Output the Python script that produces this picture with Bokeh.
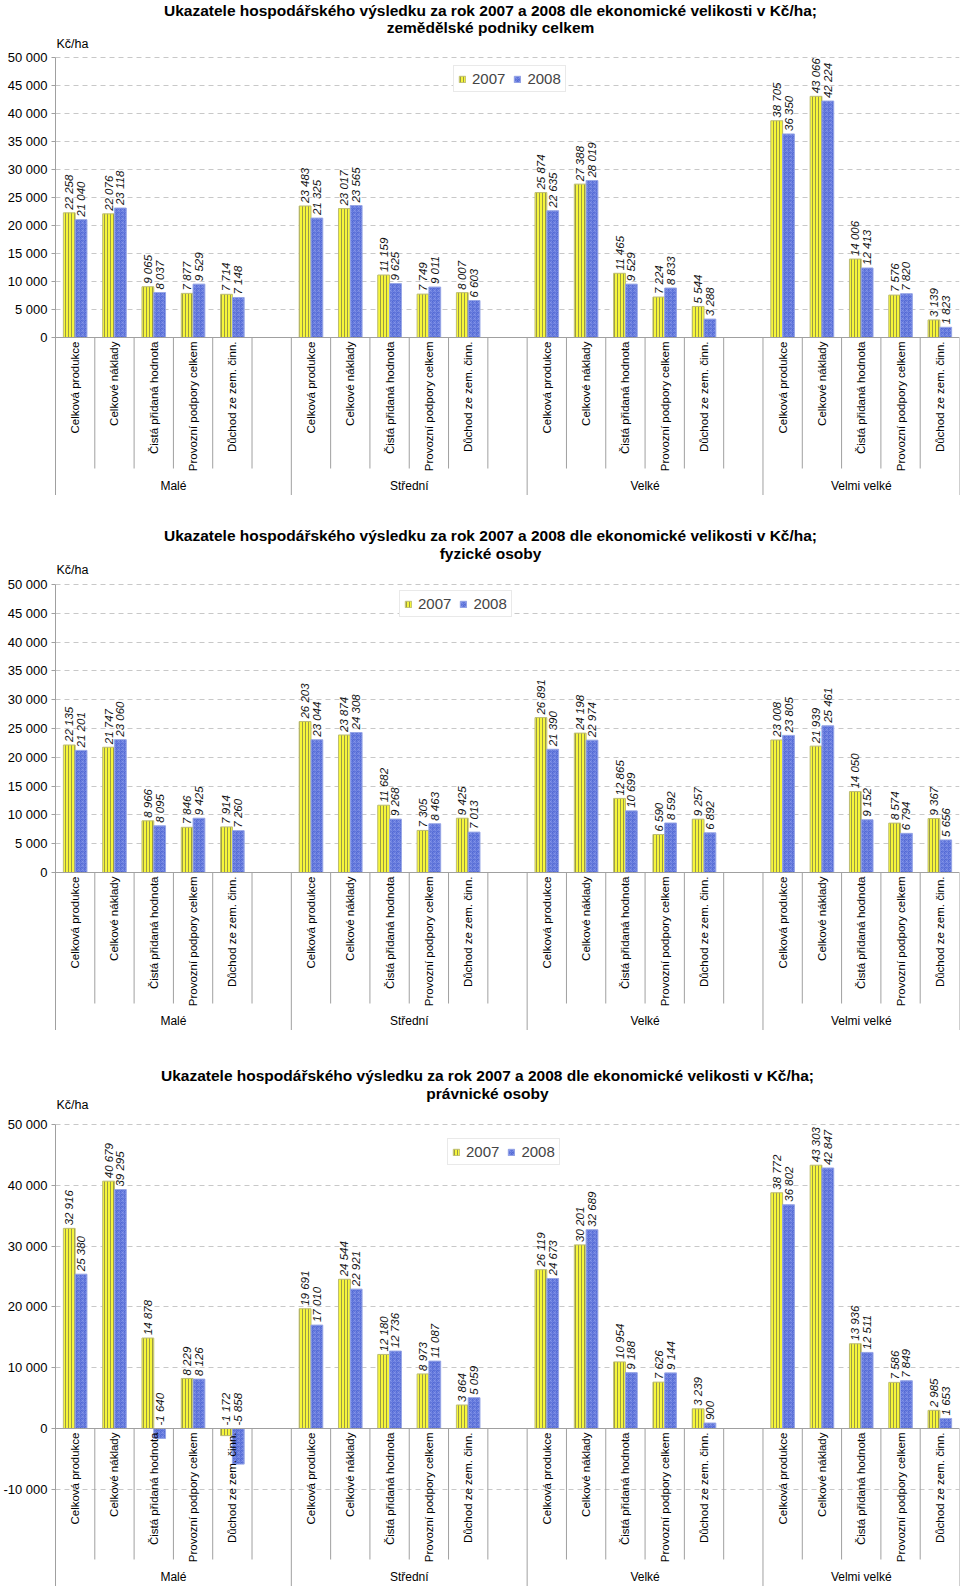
import math
from bokeh.plotting import figure
from bokeh.models import (FactorRange, Range1d, ColumnDataSource, FixedTicker,
                          CustomJSTickFormatter, Span, Legend, LegendItem)
from bokeh.transform import dodge
from bokeh.layouts import column
from bokeh.embed import file_html
from bokeh.resources import INLINE
from bokeh.core.properties import value

# ---------------- data ----------------
GROUPS = ["Malé", "Střední", "Velké", "Velmi velké"]
CATEGORIES = ["Celková produkce", "Celkové náklady", "Čistá přidaná hodnota",
              "Provozní podpory celkem", "Důchod ze zem. činn."]
YEARS = ["2007", "2008"]

TITLE_LINE1 = "Ukazatele hospodářského výsledku za rok 2007 a 2008 dle ekonomické velikosti v Kč/ha;"
SUBTITLES = ["zemědělské podniky celkem", "fyzické osoby", "právnické osoby"]
UNIT = "Kč/ha"

# zemědělské podniky celkem (groups in GROUPS order, categories in CATEGORIES order)
ALL_2007 = [22258, 22076, 9065, 7877, 7714,
            23483, 23017, 11159, 7749, 8007,
            25874, 27388, 11465, 7224, 5544,
            38705, 43066, 14006, 7576, 3139]
ALL_2008 = [21040, 23118, 8037, 9529, 7148,
            21325, 23565, 9625, 9011, 6603,
            22635, 28019, 9529, 8833, 3288,
            36350, 42224, 12413, 7820, 1823]
# fyzické osoby
FO_2007 = [22135, 21747, 8966, 7846, 7914,
           26203, 23874, 11682, 7305, 9425,
           26891, 24198, 12865, 6590, 9257,
           23008, 21939, 14050, 8574, 9367]
FO_2008 = [21201, 23060, 8095, 9425, 7260,
           23044, 24308, 9268, 8463, 7013,
           21390, 22974, 10699, 8592, 6892,
           23805, 25461, 9152, 6794, 5656]
# právnické osoby
PO_2007 = [32916, 40679, 14878, 8229, -1172,
           19691, 24544, 12180, 8973, 3864,
           26119, 30201, 10954, 7626, 3239,
           38772, 43303, 13936, 7586, 2985]
PO_2008 = [25380, 39295, -1640, 8126, -5858,
           17010, 22921, 12736, 11087, 5059,
           24673, 32689, 9188, 9144, 900,
           36802, 42847, 12511, 7849, 1653]

TICKS_A = [0, 5000, 10000, 15000, 20000, 25000, 30000, 35000, 40000, 45000, 50000]
TICKS_C = [-10000, 0, 10000, 20000, 30000, 40000, 50000]
Y_MAX = 50000

# ---------------- layout / style ----------------
WIDTH = 960
LEFT = 50
RIGHT = 1
PX_MAX = [280, 288, 304]      # pixels from 0 to Y_MAX
ABOVE = [57, 89, 94]          # pixels above Y_MAX (title area)
BELOW = [158, 158, 158]       # category-axis area below zero
INNER_SEP = 131               # length of category separators, px
GROUP_LABEL_DY = 148
TITLE_X = [435, 435, 432]     # title centre, px from frame left
TITLE_DY = [47, 49, 49]       # px above Y_MAX
SUB_DY = [30, 31, 31]
UNIT_DY = [14, 15, 20]
LEGEND_X = [398, 344, 392]
LEGEND_BOTTOM = [92, 122, 135]  # px from figure top
FONT = "Liberation Sans"

C07_FILL, C07_LINE, C07_HATCH = "#F6F63A", "#BDBD72", "#9A9A46"
C08_FILL, C08_LINE, C08_HATCH = "#5168D4", "#97A6E6", "#8C9CEA"
AXIS_COL = "#A0A0A0"
GRID_COL = "#C8C8C8"


def fmt(v):
    return f"{v:,}".replace(",", " ")


def make_chart(idx, v07, v08, ticks):
    per_px = Y_MAX / PX_MAX[idx]
    frame_h = ABOVE[idx] + PX_MAX[idx] + BELOW[idx]
    y_start = -BELOW[idx] * per_px
    y_end = Y_MAX + ABOVE[idx] * per_px

    factors = []
    group_factors = []
    for gi, g in enumerate(GROUPS):
        fl = [(g, c) for c in CATEGORIES]
        if gi < len(GROUPS) - 1:
            fl.append((g, " "))
        group_factors.append(fl)
        factors.extend(fl)

    xr = FactorRange(*factors, factor_padding=0, group_padding=0, range_padding=0)
    p = figure(width=WIDTH, height=frame_h, x_range=xr,
               y_range=Range1d(y_start, y_end), output_backend="svg",
               toolbar_location=None, title_location=None, x_axis_location=None,
               min_border_left=LEFT, min_border_right=RIGHT,
               min_border_top=0, min_border_bottom=0)
    p.outline_line_color = None
    p.background_fill_color = "white"
    p.border_fill_color = "white"
    p.xgrid.grid_line_color = None

    # y axis
    ax = p.yaxis[0]
    ax.ticker = FixedTicker(ticks=ticks)
    ax.bounds = (y_start, Y_MAX)
    ax.formatter = CustomJSTickFormatter(
        code=r'return tick.toFixed(0).replace(/\B(?=(\d{3})+(?!\d))/g, " ");')
    ax.major_label_text_font = FONT
    ax.major_label_text_font_size = "13px"
    ax.major_label_text_color = "#000000"
    ax.major_label_standoff = 4
    ax.major_tick_out = 4
    ax.major_tick_in = 0
    ax.minor_tick_line_color = None
    ax.axis_line_color = AXIS_COL
    ax.major_tick_line_color = AXIS_COL
    p.ygrid.grid_line_color = GRID_COL
    p.ygrid.grid_line_dash = "5 4"

    # separators of the category axis
    inner, outer = [], []
    for fl in group_factors:
        inner.extend(fl[:-1])
        outer.append(fl[-1])
    sep_src = ColumnDataSource(dict(
        x=inner + outer,
        y1=[-INNER_SEP * per_px] * len(inner) + [y_start] * len(outer)))
    p.segment(x0=dodge("x", 0.5, range=xr), y0=0, x1=dodge("x", 0.5, range=xr),
              y1="y1", source=sep_src, line_color=AXIS_COL, line_width=1)

    # bars
    xs = [(g, c) for g in GROUPS for c in CATEGORIES]
    src = ColumnDataSource(dict(
        x=xs, cat=[c for _, c in xs],
        y07=v07, y08=v08,
        l07=[fmt(v) for v in v07], l08=[fmt(v) for v in v08],
        ly07=[max(v, 0) for v in v07], ly08=[max(v, 0) for v in v08]))

    r07 = p.vbar(x=dodge("x", -0.15, range=xr), top="y07", bottom=0, width=0.3,
                 source=src, fill_color=C07_FILL, line_color=C07_LINE, line_width=1,
                 hatch_pattern="vertical_line", hatch_color=C07_HATCH,
                 hatch_scale=3, hatch_weight=1)
    r08 = p.vbar(x=dodge("x", 0.15, range=xr), top="y08", bottom=0, width=0.3,
                 source=src, fill_color=C08_FILL, line_color=C08_LINE, line_width=1,
                 hatch_pattern="criss_cross", hatch_color=C08_HATCH,
                 hatch_scale=4, hatch_weight=0.5)

    p.add_layout(Span(location=0, dimension="width", line_color=AXIS_COL, line_width=1))

    # value labels
    for key, off in (("07", -0.15), ("08", 0.15)):
        p.text(x=dodge("x", off, range=xr), y="ly" + key, text="l" + key, source=src,
               angle=math.pi / 2, text_align="left", text_baseline="middle",
               y_offset=-3, text_font=value(FONT), text_font_size="11.5px",
               text_font_style="italic", text_color="#111111")

    # category labels
    p.text(x="x", y=0, text="cat", source=src, angle=math.pi / 2,
           text_align="right", text_baseline="middle", y_offset=4,
           text_font=value(FONT), text_font_size="11.5px", text_color="#000000")
    # group labels
    p.text(x=GROUPS, y=[0] * len(GROUPS), text=GROUPS, y_offset=GROUP_LABEL_DY,
           text_align="center", text_baseline="middle",
           text_font=value(FONT), text_font_size="12px", text_color="#000000")

    # titles and unit (anchored at the left edge of the first category slot)
    head = ColumnDataSource(dict(x=[factors[0]], y=[Y_MAX]))
    left_edge = dodge("x", -0.5, range=xr)
    for txt, dy in ((TITLE_LINE1, TITLE_DY[idx]), (SUBTITLES[idx], SUB_DY[idx])):
        p.text(x=left_edge, y="y", text=value(txt), source=head,
               x_offset=TITLE_X[idx], y_offset=-dy,
               text_align="center", text_baseline="middle",
               text_font=value(FONT), text_font_size="15.5px", text_font_style="bold",
               text_color="#000000")
    p.text(x=left_edge, y="y", text=value(UNIT), source=head,
           x_offset=1, y_offset=-UNIT_DY[idx],
           text_align="left", text_baseline="middle",
           text_font=value(FONT), text_font_size="12.5px", text_color="#000000")

    # legend
    legend = Legend(items=[LegendItem(label=YEARS[0], renderers=[r07]),
                           LegendItem(label=YEARS[1], renderers=[r08])],
                    orientation="horizontal",
                    location=(LEGEND_X[idx], frame_h - LEGEND_BOTTOM[idx]),
                    glyph_width=8, glyph_height=8, label_height=16, label_width=20,
                    label_text_font=FONT, label_text_font_size="15px",
                    padding=4, spacing=8, label_standoff=6, margin=0,
                    border_line_color="#D4D4D4", border_line_width=1,
                    background_fill_color="white", background_fill_alpha=1)
    p.add_layout(legend)
    return p


p1 = make_chart(0, ALL_2007, ALL_2008, TICKS_A)
p2 = make_chart(1, FO_2007, FO_2008, TICKS_A)
p3 = make_chart(2, PO_2007, PO_2008, TICKS_C)

layout = column(p1, p2, p3, spacing=0)
open("out.html", "w").write(file_html(layout, INLINE))
